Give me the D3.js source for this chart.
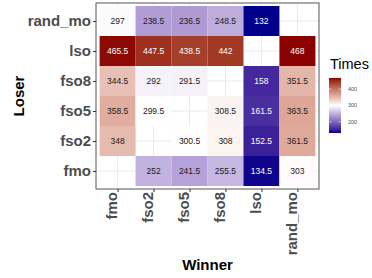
<!DOCTYPE html>
<html>
<head>
<meta charset="utf-8">
<script src="https://cdn.jsdelivr.net/npm/d3@7"></script>
<style>
  body { margin: 0; background: #fff; }
  svg { display: block; font-family: "Liberation Sans", Arial, sans-serif; }
</style>
</head>
<body>
<svg id="chart" width="372" height="278"></svg>
<script>
// Data
const winners = ["fmo", "fso2", "fso5", "fso8", "lso", "rand_mo"];
const losers = ["fmo", "fso2", "fso5", "fso8", "lso", "rand_mo"]; // bottom to top
// values[loser] aligned with winners; null = no tile
const rowRandMo = [297, 238.5, 236.5, 248.5, 132, null];
const rowLso    = [465.5, 447.5, 438.5, 442, null, 468];
const rowFso8   = [344.5, 292, 291.5, null, 158, 351.5];
const rowFso5   = [358.5, 299.5, null, 308.5, 161.5, 363.5];
const rowFso2   = [348, null, 300.5, 308, 152.5, 361.5];
const rowFmo    = [null, 252, 241.5, 255.5, 134.5, 303];
const legendTicks = [200, 300, 400];

const rows = { rand_mo: rowRandMo, lso: rowLso, fso8: rowFso8, fso5: rowFso5, fso2: rowFso2, fmo: rowFmo };
const cells = [];
losers.forEach(l => rows[l].forEach((v, i) => { if (v !== null) cells.push({ loser: l, winner: winners[i], value: v }); }));

const svg = d3.select("#chart");
const P = { left: 96, right: 319, top: 3, bottom: 189 };

// discrete scales with ggplot-like 0.6 expansion
const nx = winners.length, ny = losers.length;
const xLin = d3.scaleLinear().domain([0.4, nx + 0.6]).range([P.left, P.right]);
const yLin = d3.scaleLinear().domain([0.4, ny + 0.6]).range([P.bottom, P.top]);
const x = d3.scalePoint().domain(winners).range([xLin(1), xLin(nx)]);
const y = d3.scalePoint().domain(losers).range([yLin(1), yLin(ny)]);
const tw = xLin(1) - xLin(0), th = yLin(0) - yLin(1);

const ext = d3.extent(cells, d => d.value);
const mid = 300;
const color = d3.scaleLinear().domain([ext[0], mid, ext[1]])
  .range(["#00008B", "#ffffff", "#8B0000"]).interpolate(d3.interpolateLab).clamp(true);

// panel background
svg.append("rect").attr("x", P.left).attr("y", P.top)
  .attr("width", P.right - P.left).attr("height", P.bottom - P.top).attr("fill", "#fff");

// grid
const g = svg.append("g");
g.selectAll("line.gx").data(winners).enter().append("line")
  .attr("x1", d => x(d)).attr("x2", d => x(d)).attr("y1", P.top).attr("y2", P.bottom)
  .attr("stroke", "#EBEBEB").attr("stroke-width", 1);
g.selectAll("line.gy").data(losers).enter().append("line")
  .attr("y1", d => y(d)).attr("y2", d => y(d)).attr("x1", P.left).attr("x2", P.right)
  .attr("stroke", "#EBEBEB").attr("stroke-width", 1);

// tiles
svg.selectAll("rect.tile").data(cells).enter().append("rect")
  .attr("x", d => x(d.winner) - tw / 2).attr("y", d => y(d.loser) - th / 2)
  .attr("width", tw).attr("height", th).attr("fill", d => color(d.value));

// tile labels
svg.selectAll("text.val").data(cells).enter().append("text")
  .attr("x", d => x(d.winner)).attr("y", d => y(d.loser)).attr("dy", "0.35em")
  .attr("text-anchor", "middle").attr("font-size", "8.5px")
  .attr("fill", d => (d.value > 400 || d.value < 180) ? "#ffffff" : "#1a1a1a")
  .text(d => d.value);

// panel border
svg.append("rect").attr("x", P.left).attr("y", P.top)
  .attr("width", P.right - P.left).attr("height", P.bottom - P.top)
  .attr("fill", "none").attr("stroke", "#555").attr("stroke-width", 1);

// axes
const yAxis = svg.append("g").attr("transform", `translate(${P.left},0)`)
  .call(d3.axisLeft(y).tickSize(3).tickPadding(2));
yAxis.select(".domain").remove();
yAxis.selectAll(".tick line").attr("stroke", "#333");
yAxis.selectAll("text").attr("font-size", "15px").attr("font-weight", "bold")
  .attr("fill", "#4D4D4D").attr("font-family", "Liberation Sans, Arial, sans-serif");

const xAxis = svg.append("g").attr("transform", `translate(0,${P.bottom})`)
  .call(d3.axisBottom(x).tickSize(3).tickPadding(2));
xAxis.select(".domain").remove();
xAxis.selectAll(".tick line").attr("stroke", "#333");
xAxis.selectAll("text").attr("font-size", "15px").attr("font-weight", "bold")
  .attr("fill", "#4D4D4D").attr("font-family", "Liberation Sans, Arial, sans-serif")
  .attr("text-anchor", "end").attr("transform", "translate(0,3) rotate(-90)")
  .attr("x", 0).attr("y", 0).attr("dy", "-0.05em");

// axis titles
svg.append("text").attr("x", (P.left + P.right) / 2).attr("y", 270)
  .attr("text-anchor", "middle").attr("font-size", "15px").attr("font-weight", "bold")
  .attr("fill", "#000").text("Winner");
svg.append("text").attr("transform", `translate(24,${(P.top + P.bottom) / 2}) rotate(-90)`)
  .attr("text-anchor", "middle").attr("font-size", "15px").attr("font-weight", "bold")
  .attr("fill", "#000").text("Loser");

// legend
const L = { x: 329, w: 12, top: 78, bottom: 133 };
const ly = d3.scaleLinear().domain(ext).range([L.bottom, L.top]);
const defs = svg.append("defs");
const grad = defs.append("linearGradient").attr("id", "lg")
  .attr("x1", 0).attr("y1", 1).attr("x2", 0).attr("y2", 0);
d3.range(0, 1.0001, 0.05).forEach(t => {
  grad.append("stop").attr("offset", t).attr("stop-color", color(ext[0] + t * (ext[1] - ext[0])));
});
svg.append("rect").attr("x", L.x).attr("y", L.top).attr("width", L.w)
  .attr("height", L.bottom - L.top).attr("fill", "url(#lg)");
const lt = svg.append("g");
legendTicks.forEach(v => {
  lt.append("line").attr("x1", L.x).attr("x2", L.x + 2.4).attr("y1", ly(v)).attr("y2", ly(v))
    .attr("stroke", "#fff").attr("stroke-width", 0.6);
  lt.append("line").attr("x1", L.x + L.w - 2.4).attr("x2", L.x + L.w).attr("y1", ly(v)).attr("y2", ly(v))
    .attr("stroke", "#fff").attr("stroke-width", 0.6);
  lt.append("text").attr("x", 348).attr("y", ly(v)).attr("dy", "0.35em")
    .attr("font-size", "5.5px").attr("fill", "#4D4D4D").text(v);
});
svg.append("text").attr("x", 330).attr("y", 69).attr("font-size", "14.5px")
  .attr("fill", "#000").text("Times");
</script>
</body>
</html>
